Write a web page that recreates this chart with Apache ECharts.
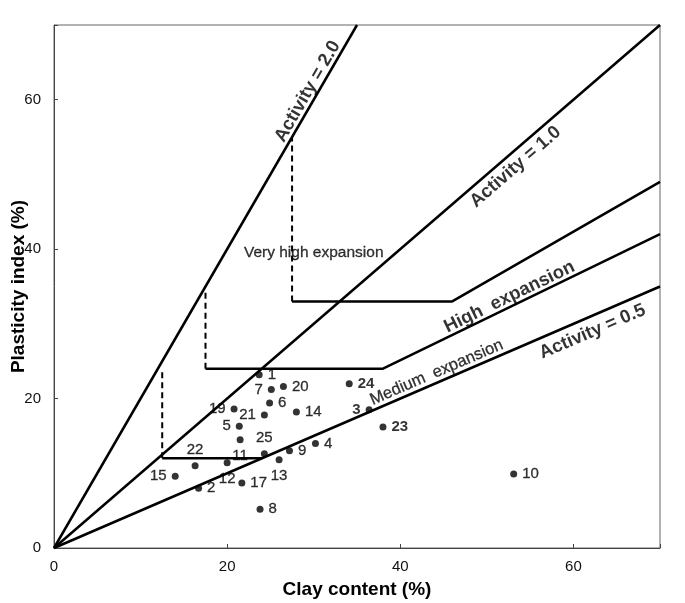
<!DOCTYPE html>
<html>
<head>
<meta charset="utf-8">
<script src="https://cdn.jsdelivr.net/npm/echarts@6/dist/echarts.min.js"></script>
<style>html,body{margin:0;padding:0;background:#fff}#c{width:685px;height:603px}</style>
</head>
<body>
<div id="c"></div>
<script>
// ---- data ----
const xTickLabels = [0, 20, 40, 60];
const yTickLabels = [0, 20, 40, 60];
const sampleIds   = ['1','2','3','4','5','6','7','8','9','10','11','12','13','14','15','17','19','20','21','22','23','24','25'];
const clayContent = [23.7,16.7,36.4,30.2,21.4,24.9,25.1,23.8,27.2,53.1,21.5,20.0,26.0,28.0,14.0,21.7,20.8,26.5,24.3,16.3,38.0,34.1,24.3];
const plasticity  = [23.2, 8.0,18.5,14.0,16.3,19.4,21.2, 5.2,13.0, 9.9,14.5,11.4,11.8,18.2, 9.6, 8.7,18.6,21.6,17.8,11.0,16.2,22.0,12.6];
const activityValues = [2.0, 1.0, 0.5];
const veryHighBoundary = [[27.5,33],[46,33],[70,49]];
const highBoundary     = [[17.5,24],[38,24],[70,42]];
const mediumBoundary   = [[12.5,12],[24,12]];
const dashedVeryHigh   = [[27.5,33],[27.5,55]];
const dashedHigh       = [[17.5,24],[17.5,34.5]];
const dashedMedium     = [[12.5,12],[12.5,24]];
// annotation texts anchored in data coordinates
const annoText = ['Activity = 2.0','Activity = 1.0','High  expansion','Activity = 0.5','Medium  expansion','Very high expansion'];
const annoX    = [29.3, 53.3, 52.6, 62.2, 44.2, 30.0];
const annoY    = [61.1, 51.0, 33.6, 28.95, 23.5, 39.5];

// ---- styles (not data) ----
const labelPos = {'1':'right','2':'right','3':'left','4':'right','5':'left','6':'right','7':'left','8':'right','9':'right','10':'right','11':'bottom','12':'bottom','13':'bottom','14':'right','15':'left','17':'right','19':'left','20':'right','21':'left','22':'top','23':'right','24':'right','25':'top'};
const boldIds = ['3','23','24'];
const annoRotate = [60, 41, 26, 23.3, 23.3, 0];
const annoBold   = [true, true, true, true, false, false];
const annoSize   = [18.5, 18.5, 18.5, 18.5, 16.5, 15.5];

const FONT = "'Liberation Sans', Arial, sans-serif";
const MAXV = 70;

const series = [];
const solid = {color:'#000', width:2.5};
activityValues.forEach(a => {
  const xe = Math.min(MAXV, MAXV / a);
  series.push({type:'line', data:[[0,0],[xe, a*xe]], symbol:'none', lineStyle:solid, silent:true, animation:false});
});
[veryHighBoundary, highBoundary, mediumBoundary].forEach(d => {
  series.push({type:'line', data:d, symbol:'none', lineStyle:solid, silent:true, animation:false});
});
[dashedVeryHigh, dashedHigh, dashedMedium].forEach(d => {
  series.push({type:'line', data:d, symbol:'none', lineStyle:{color:'#000', width:2, type:[6,4]}, silent:true, animation:false});
});
series.push({
  type:'scatter', animation:false, symbolSize:7, itemStyle:{color:'#000'},
  data: sampleIds.map((id,i) => {
    const bold = boldIds.includes(id);
    return {
      value:[clayContent[i], plasticity[i]],
      label:{show:true, position:labelPos[id], distance:5, formatter:id,
             fontFamily:FONT, fontSize:15, color:'#000',
             textBorderColor:'#000', textBorderWidth: bold ? 0 : 0.3,
             fontWeight: bold ? 'bold' : 'normal'}
    };
  })
});
series.push({
  type:'scatter', animation:false, symbolSize:1, itemStyle:{color:'rgba(0,0,0,0)'}, silent:true,
  data: annoText.map((t,i) => ({
    value:[annoX[i], annoY[i]],
    label:{show:true, position:'inside', formatter:t, rotate:annoRotate[i],
           align:'center', verticalAlign:'middle',
           textBorderWidth: annoBold[i] ? 0 : 0.3, textBorderColor:'#000',
           fontWeight: annoBold[i] ? 'bold' : 'normal', fontSize:annoSize[i],
           fontFamily:FONT, color:'#000'}
  }))
});

const chart = echarts.init(document.getElementById('c'), null, {renderer:'canvas'});
chart.setOption({
  animation:false,
  backgroundColor:'#fff',
  grid:{left:54, right:25, top:25, bottom:55, show:true, borderColor:'#666', borderWidth:1,
        containLabel:false, outerBoundsMode:'none'},
  xAxis:{
    type:'value', min:0, max:MAXV, interval:20,
    name:'Clay content (%)', nameLocation:'middle', nameGap:32, nameMoveOverlap:false,
    nameTextStyle:{fontFamily:FONT, fontWeight:'bold', fontSize:19, color:'#000'},
    axisLine:{show:true, lineStyle:{color:'#444', width:1}},
    axisTick:{show:true, inside:true, length:4, lineStyle:{color:'#444'}},
    axisLabel:{margin:11, fontFamily:FONT, fontSize:15, color:'#111',
               formatter:v => xTickLabels.includes(v) ? String(v) : ''},
    splitLine:{show:false}
  },
  yAxis:{
    type:'value', min:0, max:MAXV, interval:20,
    name:'Plasticity index (%)', nameLocation:'middle', nameGap:26, nameMoveOverlap:false,
    nameTextStyle:{fontFamily:FONT, fontWeight:'bold', fontSize:19, color:'#000'},
    axisLine:{show:true, lineStyle:{color:'#444', width:1}},
    axisTick:{show:true, inside:true, length:4, lineStyle:{color:'#444'}},
    axisLabel:{margin:13, fontFamily:FONT, fontSize:15, color:'#111',
               formatter:v => yTickLabels.includes(v) ? String(v) : ''},
    splitLine:{show:false}
  },
  series: series
});
</script>
</body>
</html>
